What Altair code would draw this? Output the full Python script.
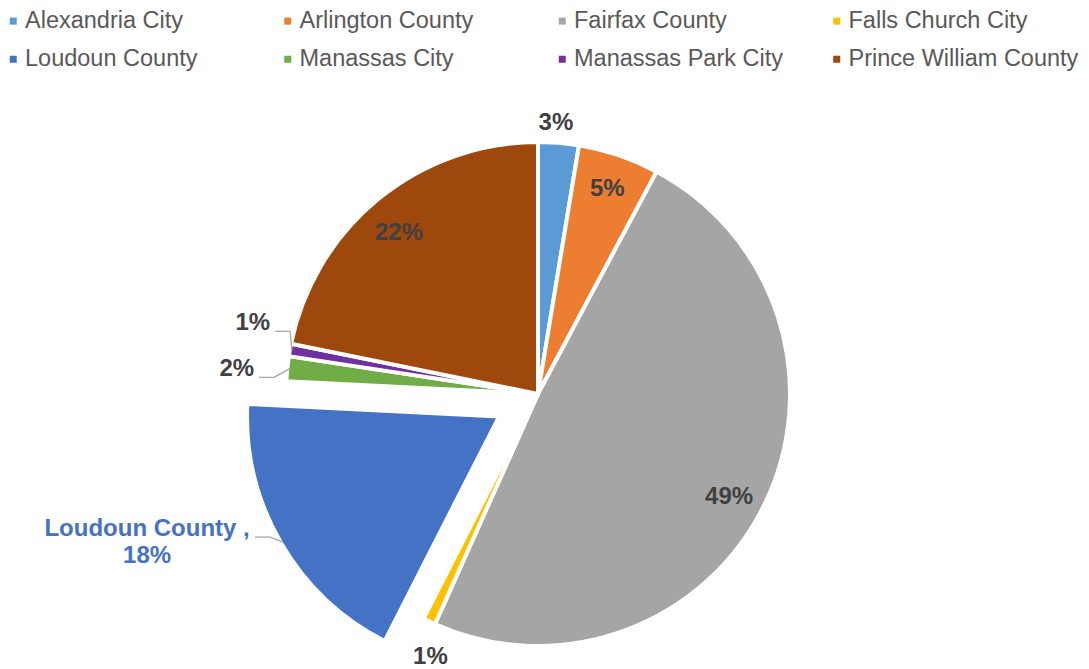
import altair as alt
import pandas as pd

# ---- data ----
names = ["Alexandria City", "Arlington County", "Fairfax County", "Falls Church City",
         "Loudoun County", "Manassas City", "Manassas Park City", "Prince William County"]
values = [2.6, 5.2, 48.9, 0.8, 18.3, 1.6, 0.8, 21.8]
colors = ["#5B9BD5", "#ED7D31", "#A5A5A5", "#FFC000",
          "#4472C4", "#70AD47", "#7030A0", "#9E480E"]

# ---- label layout (kind, polar radius, angular nudge in degrees, leader end offset) ----
label_kind = ["out", "in", "in", "out", "callout", "side", "side", "in"]
label_radius = [272, 216, 217, 284, 413.6, 285, 277, 212.7]
label_shift = [-0.9, 0, 2.2, -3.3, 11.0, -0.8, 4.7, -1.56]
lead_dx = [0, 0, 0, 0, 108, 5, 5, 0]
lead_dy = [0, 0, 0, 0, 8, 8, 8, 0]
explode = [0, 0, 0, 0, 45, 0, 0, 0]

CX, CY, R = 530, 386, 250
FONT = "Liberation Sans, Arial"

df = pd.DataFrame({
    "name": names, "value": values, "order": list(range(len(names))),
    "kind": label_kind, "lr": label_radius, "ls": label_shift,
    "ldx": lead_dx, "ldy": lead_dy, "explode": explode,
})

base = alt.Chart(df).transform_joinaggregate(
    total="sum(value)"
).transform_window(
    cum="sum(value)", sort=[alt.SortField("order")], frame=[None, 0]
).transform_calculate(
    frac="datum.value/datum.total",
    t0="(datum.cum-datum.value)/datum.total*2*PI",
    t1="datum.cum/datum.total*2*PI",
    tm="(datum.t0+datum.t1)/2",
    cx=f"{CX}+datum.explode*sin(datum.tm)",
    cy=f"{CY}-datum.explode*cos(datum.tm)",
    la="datum.tm+datum.ls*PI/180",
    lx=f"{CX}+datum.lr*sin(datum.la)",
    ly=f"{CY}-datum.lr*cos(datum.la)",
    ex=f"datum.cx+{R}*sin(datum.tm)",
    ey=f"datum.cy-{R}*cos(datum.tm)",
    endx="datum.lx+datum.ldx",
    endy="datum.ly+datum.ldy",
    elbx="datum.endx+15",
    txt="[datum.name + ' ,', format(datum.frac, '.0%')]",
)

legend = alt.Legend(
    title=None, orient="none", legendX=-6.5, legendY=1, columns=4, gridAlign="all",
    direction="horizontal",
    columnPadding=20.5, rowPadding=13.5, symbolType="square", symbolSize=49,
    symbolStrokeWidth=0, labelFontSize=23.5, labelFont=FONT, labelColor="#595959",
    labelOffset=0, labelLimit=400, padding=0,
)

arcs = base.mark_arc(outerRadius=R + 2, stroke="white", strokeWidth=4).encode(
    theta=alt.Theta("t0:Q", scale=None),
    theta2="t1:Q",
    x=alt.X("cx:Q", scale=None, axis=None),
    y=alt.Y("cy:Q", scale=None, axis=None),
    color=alt.Color("name:N", scale=alt.Scale(domain=names, range=colors), legend=legend),
    order=alt.Order("order:Q"),
)

pos = dict(x=alt.X("lx:Q", scale=None, axis=None), y=alt.Y("ly:Q", scale=None, axis=None))
lbl = dict(font=FONT, fontSize=24, fontWeight="bold", color="#404040", baseline="middle")

inside = base.transform_filter("datum.kind=='in'").mark_text(align="center", **lbl).encode(
    text=alt.Text("frac:Q", format=".0%"), **pos)
outside = base.transform_filter("datum.kind=='out'").mark_text(align="center", **lbl).encode(
    text=alt.Text("frac:Q", format=".0%"), **pos)
side = base.transform_filter("datum.kind=='side'").mark_text(align="right", **lbl).encode(
    text=alt.Text("frac:Q", format=".0%"), **pos)
callout = base.transform_filter("datum.kind=='callout'").mark_text(
    align="center", font=FONT, fontSize=24, fontWeight="bold", color="#4472C4",
    baseline="middle", lineHeight=27).encode(text="txt:N", **pos)

leads = base.transform_filter("datum.kind=='side' || datum.kind=='callout'")
lead1 = leads.mark_rule(color="#A6A6A6", strokeWidth=1.3).encode(
    x=alt.X("elbx:Q", scale=None, axis=None), y=alt.Y("endy:Q", scale=None, axis=None),
    x2="ex:Q", y2="ey:Q")
lead2 = leads.mark_rule(color="#A6A6A6", strokeWidth=1.3).encode(
    x=alt.X("endx:Q", scale=None, axis=None), y=alt.Y("endy:Q", scale=None, axis=None),
    x2="elbx:Q", y2="endy:Q")

chart = alt.layer(arcs, lead1, lead2, inside, outside, side, callout).properties(
    width=1073, height=661, padding=0,
    autosize=alt.AutoSizeParams(type="none"),
).configure_view(stroke=None)

chart.save("out.html", embed_options={"renderer": "svg", "actions": False})
